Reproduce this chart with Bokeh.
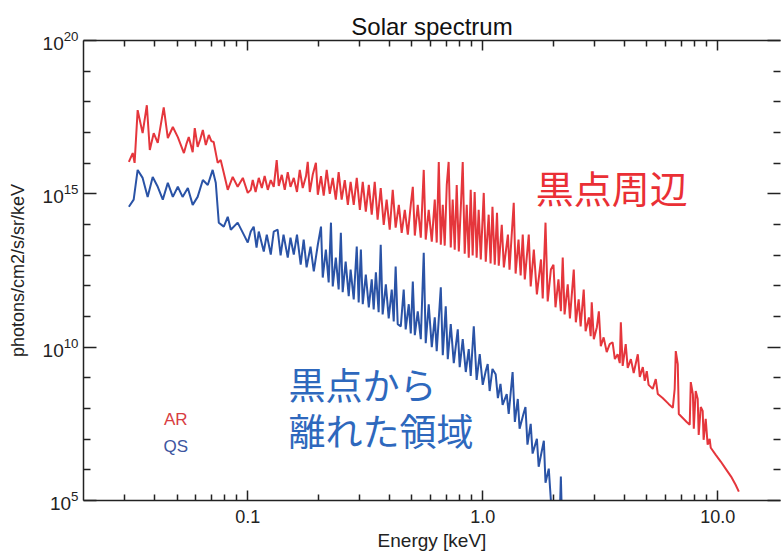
import numpy as np
from bokeh.plotting import figure
from bokeh.models import (LogAxis, FixedTicker, CustomJSTickFormatter, Label,
                          LogTickFormatter, ColumnDataSource)
from bokeh.embed import file_html
from bokeh.resources import INLINE

# ---------------- data ----------------
# Active region (AR): energy [keV] and log10(photons/cm2/s/sr/keV)
ar_energy_kev = [
    0.0312, 0.0324, 0.0330, 0.0340, 0.0357, 0.0372, 0.0383, 0.0398, 0.0414, 0.0439,
    0.0457, 0.0480, 0.0504, 0.0535, 0.0548, 0.0561, 0.0583, 0.0595, 0.0612, 0.0628,
    0.0644, 0.0663, 0.0683, 0.0700, 0.0716, 0.0745, 0.0767, 0.0791, 0.0822, 0.0863,
    0.0906, 0.0953, 0.100,
    0.103, 0.105, 0.108, 0.1114, 0.1148, 0.118, 0.1217, 0.1253, 0.129, 0.1328,
    0.1355, 0.1396, 0.1437, 0.148, 0.152, 0.157, 0.162, 0.1665, 0.1714, 0.177,
    0.180, 0.1837, 0.189, 0.195, 0.1987, 0.205, 0.2105, 0.2168, 0.2234, 0.230,
    0.237, 0.2437, 0.251, 0.2588, 0.2667, 0.274, 0.2825, 0.291, 0.300, 0.3086,
    0.318, 0.3275, 0.337, 0.347, 0.357, 0.368, 0.379, 0.390, 0.402, 0.414,
    0.426, 0.4395, 0.452, 0.466, 0.480, 0.494, 0.504, 0.514, 0.529, 0.545,
    0.561, 0.572, 0.589, 0.607, 0.625, 0.637, 0.650, 0.663, 0.676, 0.689,
    0.703, 0.716, 0.731, 0.745, 0.760, 0.775, 0.791, 0.806, 0.822, 0.838,
    0.855, 0.872, 0.889, 0.906, 0.924, 0.942, 0.961, 0.981, 1.01, 1.03,
    1.06, 1.08, 1.10, 1.125, 1.15, 1.17, 1.205, 1.23, 1.28, 1.30,
    1.355, 1.38, 1.42, 1.45, 1.48, 1.51, 1.57, 1.60, 1.65, 1.70,
    1.77, 1.80, 1.85, 1.89, 1.95, 2.00, 2.04, 2.10, 2.15, 2.19,
    2.23, 2.30, 2.35, 2.44, 2.49, 2.56, 2.61, 2.69, 2.74, 2.83,
    2.88, 2.91, 2.97, 3.06, 3.12, 3.18, 3.27, 3.37, 3.47, 3.57,
    3.65, 3.75, 3.83, 3.87, 3.94, 4.06, 4.14, 4.27, 4.39, 4.57,
    4.66, 4.80, 4.89, 4.99, 5.08, 5.29, 5.45, 5.56, 5.83, 6.18,
    6.44, 6.56, 6.63, 6.76, 6.83, 7.10, 7.38, 7.60, 7.68, 7.84,
    7.91, 8.06, 8.22, 8.30, 8.47, 8.63, 8.71, 8.89, 9.06, 9.24,
    9.34, 9.81, 10.3, 10.8, 11.4, 11.9, 12.3,
]
ar_log_flux = [
    16.04, 16.33, 16.01, 17.73, 16.98, 17.89, 16.43, 16.98, 16.66, 17.82,
    16.82, 17.18, 16.85, 16.33, 16.62, 16.85, 16.36, 17.14, 16.53, 16.78,
    17.08, 16.59, 16.92, 16.72, 16.69, 16.01, 16.10, 15.68, 15.13, 15.55,
    15.23, 15.52, 15.03,
    15.13, 15.45, 15.06, 15.52, 15.19, 15.58, 15.13, 15.45, 15.23, 16.10,
    15.26, 15.62, 15.13, 15.71, 15.23, 15.52, 15.06, 15.78, 15.19, 15.58,
    16.04, 15.06, 15.62, 16.01, 14.97, 15.58, 14.94, 15.78, 15.00, 15.52,
    14.81, 15.71, 14.81, 15.45, 14.64, 15.39, 14.64, 15.52, 14.48, 15.39,
    14.42, 15.29, 14.32, 15.39, 14.16, 15.19, 13.99, 14.81, 13.83, 15.13,
    13.90, 14.64, 13.73, 14.48, 13.67, 14.64, 15.23, 13.64, 14.64, 13.57,
    15.78, 13.51, 14.48, 13.44, 14.81, 13.41, 16.04, 13.34, 14.64, 13.31,
    15.29, 16.04, 13.25, 14.81, 13.18, 15.29, 13.12, 14.48, 16.04, 13.05,
    14.64, 12.92, 15.13, 12.99, 15.06, 12.92, 14.48, 12.86, 15.03, 12.79,
    14.32, 12.73, 14.58, 12.69, 14.38, 12.66, 13.99, 12.60, 13.67, 12.53,
    14.71, 12.40, 13.51, 12.34, 13.67, 12.21, 13.67, 11.98, 13.18, 11.72,
    12.86, 11.59, 14.06, 11.49, 12.53, 12.69, 11.30, 12.21, 11.17, 12.92,
    11.07, 12.05, 10.94, 12.53, 10.81, 11.56, 10.68, 11.88, 10.52, 10.97,
    10.36, 11.46, 10.26, 10.65, 11.17, 10.03, 10.32, 9.84, 10.10, 10.16,
    9.61, 9.77, 9.48, 10.81, 9.39, 10.10, 9.32, 9.61, 9.16, 9.77,
    9.03, 9.35, 8.90, 9.22, 8.77, 8.64, 8.96, 8.47, 8.34, 8.15,
    8.02, 8.64, 9.87, 9.45, 7.82, 7.69, 7.56, 7.47, 8.86, 8.47,
    7.34, 8.57, 8.31, 7.14, 8.05, 7.92, 6.98, 7.66, 6.82, 7.01,
    6.72, 6.49, 6.27, 6.04, 5.78, 5.52, 5.29,
]

# Quiet Sun (QS)
qs_energy_kev = [
    0.0312, 0.0327, 0.0340, 0.0357, 0.0375, 0.0394, 0.0414, 0.0435, 0.0457, 0.0480,
    0.0504, 0.0528, 0.0556, 0.0583, 0.0612, 0.0644, 0.0676, 0.0709, 0.0731, 0.0753,
    0.0791, 0.0822, 0.0847, 0.0906, 0.0962,
    0.100, 0.103, 0.106, 0.109, 0.1114, 0.117, 0.1205, 0.1253, 0.129, 0.134,
    0.138, 0.142, 0.148, 0.152, 0.157, 0.162, 0.168, 0.173, 0.178, 0.185,
    0.191, 0.1987, 0.205, 0.2085, 0.215, 0.221, 0.226, 0.230, 0.237, 0.2437,
    0.249, 0.2535, 0.261, 0.269, 0.274, 0.2825, 0.291, 0.2965, 0.303, 0.3086,
    0.318, 0.3275, 0.337, 0.3435, 0.351, 0.3606, 0.368, 0.375, 0.387, 0.398,
    0.410, 0.418, 0.426, 0.4347,
    0.448, 0.461, 0.470, 0.4845, 0.494, 0.504, 0.514, 0.529, 0.545, 0.561,
    0.572, 0.589, 0.607, 0.625, 0.637, 0.663, 0.676, 0.696, 0.710, 0.731,
    0.753, 0.783, 0.798, 0.822, 0.847, 0.872, 0.889, 0.916, 0.942, 0.971,
    1.00, 1.03, 1.05, 1.07, 1.10, 1.135, 1.16, 1.19, 1.215, 1.265,
    1.29, 1.34, 1.37, 1.41, 1.435, 1.49, 1.52, 1.55, 1.60, 1.63,
    1.70, 1.73, 1.82, 1.85, 1.91, 1.95, 2.00, 2.13, 2.15, 2.17, 2.40,
]
qs_log_flux = [
    14.58, 14.81, 15.78, 15.52, 14.90, 15.55, 15.23, 14.81, 15.36, 14.90,
    15.23, 14.90, 15.19, 14.64, 14.90, 15.45, 15.29, 15.78, 15.36, 14.06,
    13.93, 14.25, 13.83, 14.06, 13.67,
    13.41, 13.77, 13.93, 13.25, 13.77, 13.12, 13.67, 13.02, 13.77, 13.83,
    12.99, 13.67, 12.92, 13.57, 13.02, 13.67, 12.69, 13.51, 12.60, 13.28,
    12.47, 13.34, 13.93, 12.27, 13.18, 12.11, 14.06, 11.98, 12.92, 11.88,
    13.73, 11.79, 12.79, 11.66, 12.53, 11.56, 13.28, 11.46, 13.18, 11.40,
    12.37, 11.30, 12.21, 11.23, 12.44, 11.14, 13.34, 11.07, 12.05, 10.94,
    11.88, 10.84, 12.63, 10.75,
    10.68, 11.88, 10.58, 11.40, 10.45, 12.14, 10.39, 11.17, 10.26, 13.08,
    10.13, 11.40, 10.00, 10.97, 9.87, 11.95, 9.74, 11.33, 9.61, 10.75,
    9.48, 10.58, 9.35, 10.26, 9.19, 9.94, 9.06, 10.68, 8.93, 9.77,
    8.77, 9.22, 9.45, 8.57, 9.29, 9.12, 8.34, 8.80, 8.12, 8.47,
    7.82, 9.19, 7.56, 8.31, 7.34, 7.82, 8.05, 6.82, 7.50, 6.53,
    7.01, 6.10, 6.95, 5.58, 6.04, 5.00, 4.60, 4.60, 5.78, 4.60, 4.00,
]

x_major_ticks = [0.1, 1.0, 10.0]
x_minor_ticks = [0.03, 0.04, 0.05, 0.06, 0.07, 0.08, 0.09,
                 0.2, 0.3, 0.4, 0.5, 0.6, 0.7, 0.8, 0.9,
                 2, 3, 4, 5, 6, 7, 8, 9]
y_major_ticks = [1e5, 1e10, 1e15, 1e20]
y_minor_ticks = [10.0 ** k for k in range(5, 21) if k % 5 != 0]

AR_COLOR = "#e5363c"
QS_COLOR = "#2a53a6"
FONT = "Liberation Sans"

ar_src = ColumnDataSource(dict(e=ar_energy_kev, f=[10.0 ** v for v in ar_log_flux]))
qs_src = ColumnDataSource(dict(e=qs_energy_kev, f=[10.0 ** v for v in qs_log_flux]))

p = figure(width=782, height=553, x_axis_type="log", y_axis_type="log",
           x_range=(0.02, 18.5), y_range=(1e5, 1e20),
           output_backend="svg", toolbar_location=None,
           min_border_left=83, min_border_right=2,
           min_border_top=40, min_border_bottom=51,
           background_fill_color="white", border_fill_color="white")

p.title.text = "Solar spectrum"
p.title.align = "center"
p.title.text_font = FONT
p.title.text_font_size = "24px"
p.title.text_font_style = "normal"
p.title.text_color = "#111111"
p.title.standoff = 2

p.xgrid.grid_line_color = None
p.ygrid.grid_line_color = None
p.outline_line_color = None

def style_axis(ax, major_in, minor_in):
    ax.axis_line_color = "#222222"
    ax.axis_line_width = 1.5
    ax.major_tick_line_color = "#222222"
    ax.minor_tick_line_color = "#222222"
    ax.major_tick_line_width = 1.5
    ax.minor_tick_line_width = 1.5
    ax.major_tick_in = major_in
    ax.major_tick_out = 0
    ax.minor_tick_in = minor_in
    ax.minor_tick_out = 0

xax = p.xaxis[0]
xax.ticker = FixedTicker(ticks=x_major_ticks, minor_ticks=x_minor_ticks)
xax.formatter = CustomJSTickFormatter(code="return tick.toFixed(1);")
style_axis(xax, 10, 6)
xax.major_label_text_font = FONT
xax.major_label_text_font_size = "18px"
xax.major_label_text_color = "#222222"
xax.major_label_standoff = 9
xax.axis_label = "Energy [keV]"
xax.axis_label_text_font = FONT
xax.axis_label_text_font_size = "19px"
xax.axis_label_text_font_style = "normal"
xax.axis_label_text_color = "#222222"
xax.axis_label_standoff = 4

yax = p.yaxis[0]
yax.ticker = FixedTicker(ticks=y_major_ticks, minor_ticks=y_minor_ticks)
yax.formatter = LogTickFormatter()
style_axis(yax, 13, 7)
yax.major_label_text_font = FONT
yax.major_label_text_font_size = "19px"
yax.major_label_text_color = "#222222"
yax.major_label_standoff = 5
yax.axis_label = "photons/cm2/s/sr/keV"
yax.axis_label_text_font = FONT
yax.axis_label_text_font_size = "18px"
yax.axis_label_text_font_style = "normal"
yax.axis_label_text_color = "#222222"
yax.axis_label_standoff = 12

top = LogAxis(ticker=FixedTicker(ticks=x_major_ticks, minor_ticks=x_minor_ticks),
              formatter=CustomJSTickFormatter(code="return '';"))
style_axis(top, 10, 6)
top.major_label_text_font_size = "0px"
top.major_label_standoff = 0
p.add_layout(top, "above")

right = LogAxis(ticker=FixedTicker(ticks=y_major_ticks, minor_ticks=y_minor_ticks),
                formatter=CustomJSTickFormatter(code="return '';"))
style_axis(right, 13, 7)
right.axis_line_color = None
right.major_label_text_font_size = "0px"
right.major_label_standoff = 0
p.add_layout(right, "right")

p.line("e", "f", source=ar_src, line_color=AR_COLOR, line_width=2)
p.line("e", "f", source=qs_src, line_color=QS_COLOR, line_width=2)

CJK = "Noto Sans CJK JP"
p.add_layout(Label(x=1.68, y=1.8e15, text="黒点周辺", text_font=CJK,
                   text_font_size="38px", text_color="#ea2f35",
                   text_align="left", text_baseline="middle"))
p.add_layout(Label(x=0.149, y=6.3e8, text="黒点から", text_font=CJK,
                   text_font_size="37px", text_color="#2e68bd",
                   text_align="left", text_baseline="middle"))
p.add_layout(Label(x=0.149, y=2.0e7, text="離れた領域", text_font=CJK,
                   text_font_size="37px", text_color="#2e68bd",
                   text_align="left", text_baseline="middle"))
p.add_layout(Label(x=0.0494, y=4.3e7, text="AR", text_font=FONT,
                   text_font_size="17px", text_color="#d83d42",
                   text_align="center", text_baseline="middle"))
p.add_layout(Label(x=0.0494, y=5.6e6, text="QS", text_font=FONT,
                   text_font_size="17px", text_color="#3d56a0",
                   text_align="center", text_baseline="middle"))

open("out.html", "w").write(file_html(p, INLINE))
